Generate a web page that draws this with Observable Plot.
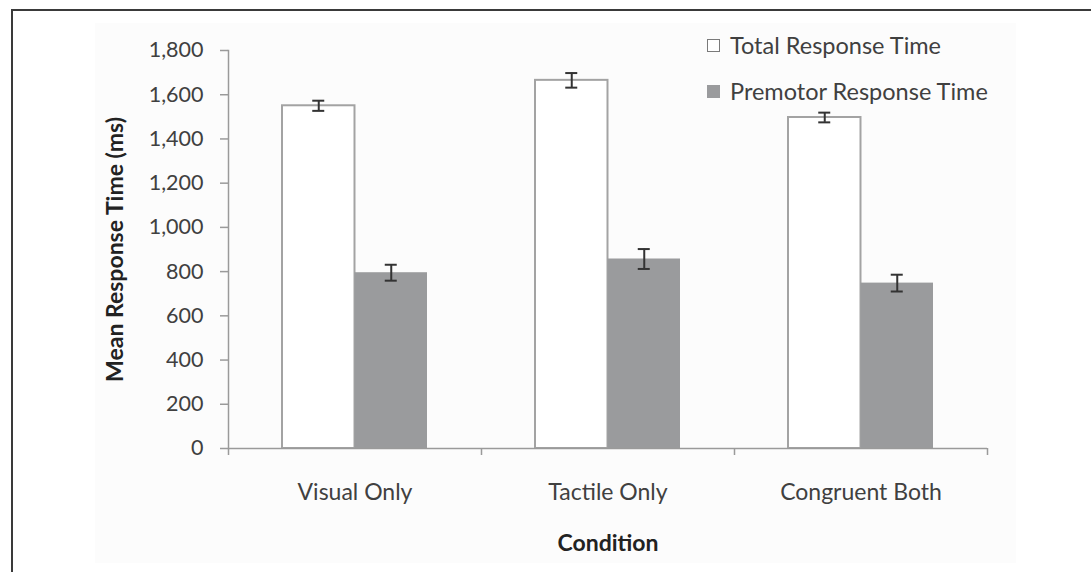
<!DOCTYPE html>
<html>
<head>
<meta charset="utf-8">
<script src="https://cdn.jsdelivr.net/npm/d3@7"></script>
<script src="https://cdn.jsdelivr.net/npm/@observablehq/plot@0.6"></script>
<style>
  html, body { margin: 0; padding: 0; background: #ffffff; }
  #wrap { position: relative; width: 1091px; height: 572px; overflow: hidden; font-family: Lato, "Open Sans", sans-serif; }
  #frame { position: absolute; left: 11px; top: 9px; width: 1100px; height: 600px; border-left: 2px solid #3a3a3a; border-top: 2px solid #3a3a3a; }
  #panel { position: absolute; left: 95px; top: 23px; width: 921px; height: 540px; background: #fcfcfc; }
  #chart { position: absolute; left: 0; top: 0; }
  #legend { position: absolute; left: 707px; top: 22px; color: #404040; font-size: 23.5px; }
  .item { display: flex; align-items: center; height: 46px; white-space: nowrap; }
  .sw { width: 13px; height: 13px; margin-right: 10px; box-sizing: border-box; }
</style>
</head>
<body>
<div id="wrap">
  <div id="frame"></div>
  <div id="panel"></div>
  <div id="chart"></div>
  <div id="legend"></div>
</div>
<script>
const categories = ["Visual Only", "Tactile Only", "Congruent Both"];
const seriesNames = ["Total Response Time", "Premotor Response Time"];
const totalMeans = [1550, 1665, 1497];
const totalErrors = [23, 33, 22];
const premotorMeans = [795, 857, 748];
const premotorErrors = [36, 45, 38];
const yTicks = [0, 200, 400, 600, 800, 1000, 1200, 1400, 1600, 1800];

const colors = { total: "#ffffff", premotor: "#9a9b9d" };

const rows = categories.map((c, i) => ({
  cat: c,
  total: totalMeans[i], totalErr: totalErrors[i],
  premotor: premotorMeans[i], premotorErr: premotorErrors[i]
}));

const W = 1091, H = 572, mL = 228, mR = 104, mT = 50, mB = 124;
const bw = (W - mL - mR) / categories.length;
const half = bw / 2;
const outer = 54;                 // gap between category edge and bar
const barW = half - outer;
const errC = outer + barW / 2;    // error bar center within band
const cap = 6;

const chart = Plot.plot({
  width: W, height: H,
  marginLeft: mL, marginRight: mR, marginTop: mT, marginBottom: mB,
  style: { background: "transparent", fontFamily: "Lato, 'Open Sans', sans-serif", color: "#404040" },
  x: { domain: categories, padding: 0, label: null },
  y: { domain: [0, 1800], label: null },
  marks: [
    Plot.barY(rows, { x: "cat", y: "total", fill: colors.total, stroke: "#a3a3a3", strokeWidth: 2, insetLeft: outer, insetRight: half }),
    Plot.barY(rows, { x: "cat", y: "premotor", fill: colors.premotor, insetLeft: half, insetRight: outer }),
    // error bars
    Plot.ruleX(rows, { x: "cat", y1: d => d.total - d.totalErr, y2: d => d.total + d.totalErr, dx: errC - half, stroke: "#333", strokeWidth: 2 }),
    Plot.tickY(rows, { x: "cat", y: d => d.total - d.totalErr, insetLeft: errC - cap, insetRight: bw - errC - cap, stroke: "#333", strokeWidth: 2 }),
    Plot.tickY(rows, { x: "cat", y: d => d.total + d.totalErr, insetLeft: errC - cap, insetRight: bw - errC - cap, stroke: "#333", strokeWidth: 2 }),
    Plot.ruleX(rows, { x: "cat", y1: d => d.premotor - d.premotorErr, y2: d => d.premotor + d.premotorErr, dx: half - errC, stroke: "#333", strokeWidth: 2 }),
    Plot.tickY(rows, { x: "cat", y: d => d.premotor - d.premotorErr, insetLeft: bw - errC - cap, insetRight: errC - cap, stroke: "#333", strokeWidth: 2 }),
    Plot.tickY(rows, { x: "cat", y: d => d.premotor + d.premotorErr, insetLeft: bw - errC - cap, insetRight: errC - cap, stroke: "#333", strokeWidth: 2 }),
    // axes
    Plot.axisY({ ticks: yTicks, tickFormat: d3.format(","), tickSize: 8, tickPadding: 17, fontSize: 21.5, stroke: "#9a9a9a", strokeWidth: 1.5,
      label: "Mean Response Time (ms)", labelAnchor: "center", labelArrow: "none", labelOffset: 122 }),
    Plot.frame({ anchor: "left", stroke: "#9a9a9a", strokeWidth: 1.5 }),
    Plot.ruleY([0], { stroke: "#9a9a9a", strokeWidth: 1.5 }),
    Plot.ruleX(categories, { x: d => d, y1: 0, y2: 0, dx: -half, insetBottom: -7, stroke: "#9a9a9a", strokeWidth: 1.5 }),
    Plot.ruleX(categories.slice(-1), { x: d => d, y1: 0, y2: 0, dx: half, insetBottom: -7, stroke: "#9a9a9a", strokeWidth: 1.5 }),
    Plot.axisX({ tickSize: 0, tickPadding: 35, fontSize: 23,
      label: "Condition", labelAnchor: "center", labelArrow: "none", labelOffset: 102 })
  ]
});
document.getElementById("chart").appendChild(chart);

// bold axis titles
chart.querySelectorAll("g[aria-label='y-axis label'] text, g[aria-label='x-axis label'] text").forEach(t => {
  t.setAttribute("font-weight", "bold");
  t.setAttribute("fill", "#222");
  t.setAttribute("font-size", "23");
});

const legend = document.getElementById("legend");
seriesNames.forEach((name, i) => {
  const item = document.createElement("div");
  item.className = "item";
  const sw = document.createElement("div");
  sw.className = "sw";
  if (i === 0) { sw.style.background = colors.total; sw.style.border = "1.5px solid #7a7a7a"; }
  else { sw.style.background = colors.premotor; }
  const label = document.createElement("span");
  label.textContent = name;
  item.appendChild(sw);
  item.appendChild(label);
  legend.appendChild(item);
});
</script>
</body>
</html>
